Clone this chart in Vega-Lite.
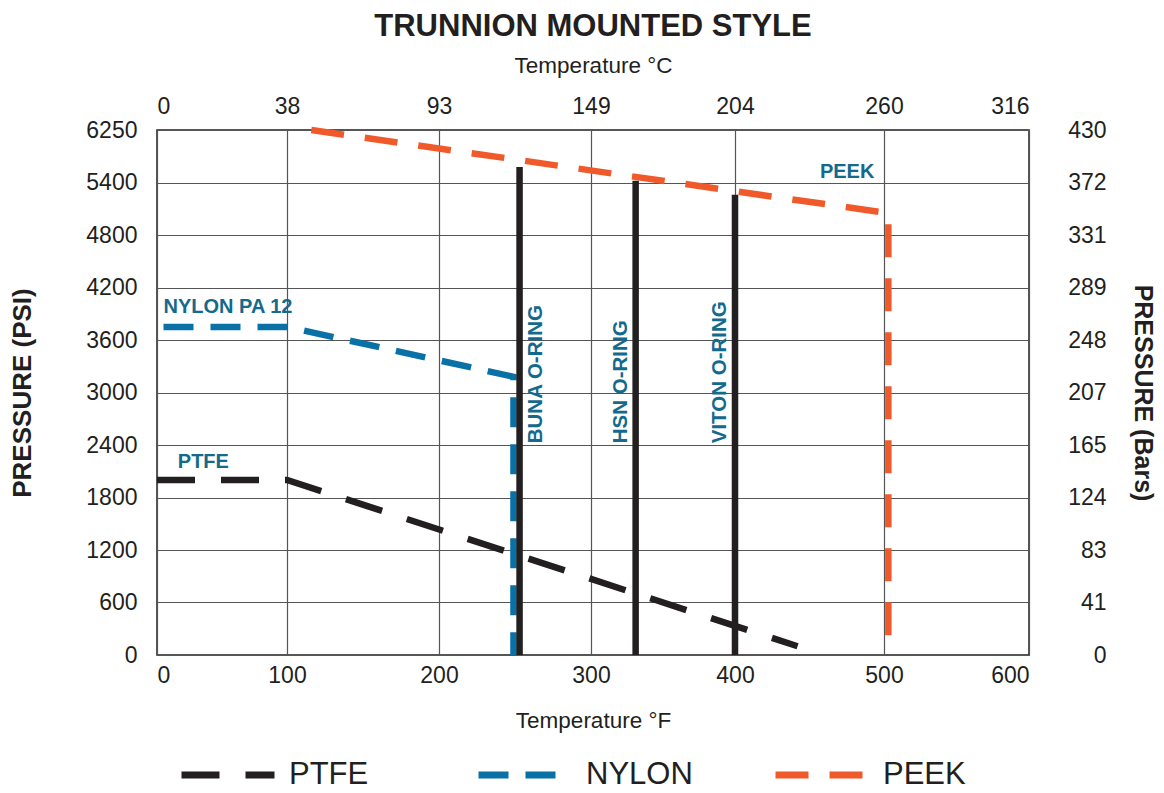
{
  "$schema": "https://vega.github.io/schema/vega-lite/v6.json",
  "width": 872,
  "height": 525,
  "autosize": {"type": "none"},
  "padding": {"left": 157, "top": 130, "right": 135, "bottom": 138},
  "background": "white",
  "title": {
    "text": "TRUNNION MOUNTED STYLE",
    "font": "Liberation Sans",
    "fontSize": 31,
    "fontWeight": "bold",
    "color": "#231f20",
    "anchor": "middle",
    "offset": 11
  },
  "config": {
    "view": {"stroke": "#231f20", "strokeWidth": 1.5},
    "axis": {
      "labelFont": "Liberation Sans",
      "titleFont": "Liberation Sans",
      "labelColor": "#231f20",
      "titleColor": "#231f20",
      "labelFontSize": 23,
      "ticks": false,
      "domain": false,
      "gridColor": "#555555",
      "gridWidth": 1.2,
      "gridOpacity": 1
    }
  },
  "datasets": {
    "ratings": [
      {"series": "PTFE", "temp": 0, "psi": 2000},
      {"series": "PTFE", "temp": 100, "psi": 2000},
      {"series": "PTFE", "temp": 442, "psi": 100},
      {"series": "NYLON", "temp": 5, "psi": 3750},
      {"series": "NYLON", "temp": 100, "psi": 3750},
      {"series": "NYLON", "temp": 249, "psi": 3180},
      {"series": "NYLON", "temp": 249, "psi": 0},
      {"series": "PEEK", "temp": 116, "psi": 6250},
      {"series": "PEEK", "temp": 400, "psi": 5300},
      {"series": "PEEK", "temp": 503, "psi": 5050},
      {"series": "PEEK", "temp": 503, "psi": 0}
    ],
    "orings": [
      {"ring": "BUNA O-RING", "temp": 253, "psiTop": 5650},
      {"ring": "HSN O-RING", "temp": 331, "psiTop": 5430},
      {"ring": "VITON O-RING", "temp": 400, "psiTop": 5260}
    ],
    "seriesLabels": [
      {"label": "NYLON PA 12", "temp": 5, "psi": 3910},
      {"label": "PTFE", "temp": 16, "psi": 2137},
      {"label": "PEEK", "temp": 457, "psi": 5480}
    ],
    "ringLabels": [
      {"label": "BUNA O-RING", "temp": 268, "psi": 2420},
      {"label": "HSN O-RING", "temp": 325, "psi": 2420},
      {"label": "VITON O-RING", "temp": 394, "psi": 2420}
    ]
  },
  "layer": [
    {
      "data": {"name": "ratings"},
      "mark": {"type": "line", "strokeWidth": 6.5, "strokeCap": "butt", "strokeJoin": "miter"},
      "encoding": {
        "x": {
          "field": "temp",
          "type": "quantitative",
          "scale": {"domain": [0, 100, 200, 300, 400, 500, 600], "range": [0, 130, 282, 434, 578, 727, 872], "nice": false, "zero": false},
          "axis": {
            "orient": "bottom",
            "values": [0, 100, 200, 300, 400, 500, 600],
            "grid": true,
            "labelPadding": 9,
            "title": "Temperature °F",
            "titleFontSize": 22.5,
            "titleFontWeight": "normal",
            "titlePadding": 22
          }
        },
        "y": {
          "field": "psi",
          "type": "quantitative",
          "scale": {"domain": [0, 5400, 6250], "range": [525, 52.5, 0], "nice": false, "zero": false},
          "axis": {
            "orient": "left",
            "values": [0, 600, 1200, 1800, 2400, 3000, 3600, 4200, 4800, 5400, 6250],
            "format": "d",
            "grid": true,
            "labelPadding": 20,
            "title": "PRESSURE (PSI)",
            "titleFontSize": 26,
            "titleFontWeight": "bold",
            "titlePadding": 50
          }
        },
        "color": {
          "field": "series",
          "type": "nominal",
          "sort": ["PTFE", "NYLON", "PEEK"],
          "scale": {"domain": ["PTFE", "NYLON", "PEEK"], "range": ["#231f20", "#0a71a6", "#f05a2a"]},
          "legend": {
            "title": null,
            "orient": "none",
            "direction": "horizontal",
            "legendX": 21,
            "legendY": 595,
            "symbolType": "stroke",
            "symbolSize": 8649,
            "symbolStrokeWidth": 7,
            "symbolDash": [35, 22],
            "labelFont": "Liberation Sans",
            "labelFontSize": 31,
            "labelColor": "#231f20",
            "labelOffset": 11,
            "columnPadding": 68,
            "gridAlign": "all"
          }
        },
        "strokeDash": {
          "field": "series",
          "type": "nominal",
          "scale": {"domain": ["PTFE", "NYLON", "PEEK"], "range": [[38, 26], [30, 17], [33, 21]]},
          "legend": null
        },
        "detail": {"field": "series"}
      }
    },
    {
      "data": {"name": "orings"},
      "mark": {"type": "rule", "strokeWidth": 6.5, "color": "#231f20", "strokeCap": "butt"},
      "encoding": {
        "x": {
          "field": "temp",
          "type": "quantitative",
          "axis": {
            "orient": "top",
            "values": [0, 100, 200, 300, 400, 500, 600],
            "labelExpr": "['0','38','93','149','204','260','316'][datum.value/100]",
            "grid": false,
            "labelPadding": 12,
            "title": "Temperature °C",
            "titleFontSize": 22.5,
            "titleFontWeight": "normal",
            "titlePadding": 18
          }
        },
        "y": {
          "field": "psiTop",
          "type": "quantitative",
          "axis": {
            "orient": "right",
            "values": [0, 600, 1200, 1800, 2400, 3000, 3600, 4200, 4800, 5400, 6250],
            "labelExpr": "datum.value == 6250 ? '430' : ['0','41','83','124','165','207','248','289','331','372'][datum.value/600]",
            "labelAlign": "right",
            "labelPadding": 77,
            "grid": false,
            "title": "PRESSURE (Bars)",
            "titleFontSize": 25,
            "titleFontWeight": "bold",
            "titlePadding": 23
          }
        },
        "y2": {"datum": 0}
      }
    },
    {
      "data": {"name": "seriesLabels"},
      "mark": {
        "type": "text",
        "font": "Liberation Sans",
        "fontSize": 20,
        "fontWeight": "bold",
        "color": "#136a8c",
        "align": "left",
        "baseline": "alphabetic"
      },
      "encoding": {
        "x": {"field": "temp", "type": "quantitative", "axis": null},
        "y": {"field": "psi", "type": "quantitative", "axis": null},
        "text": {"field": "label"}
      }
    },
    {
      "data": {"name": "ringLabels"},
      "mark": {
        "type": "text",
        "font": "Liberation Sans",
        "fontSize": 20.5,
        "fontWeight": "bold",
        "color": "#136a8c",
        "align": "left",
        "baseline": "alphabetic",
        "angle": 270
      },
      "encoding": {
        "x": {"field": "temp", "type": "quantitative", "axis": null},
        "y": {"field": "psi", "type": "quantitative", "axis": null},
        "text": {"field": "label"}
      }
    }
  ],
  "resolve": {"axis": {"x": "independent", "y": "independent"}}
}
